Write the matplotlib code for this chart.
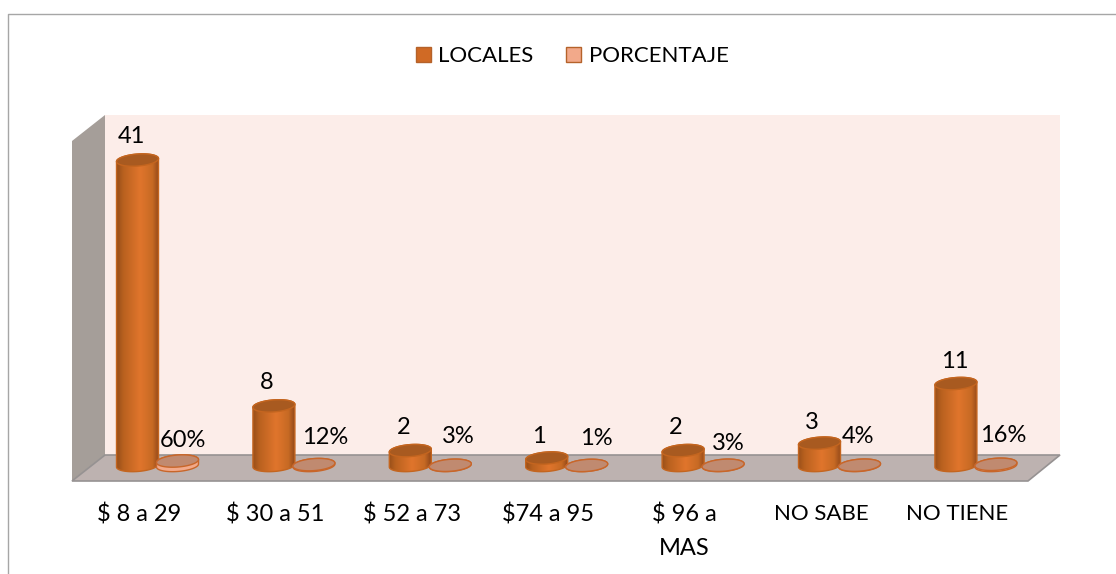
import numpy as np
import matplotlib
matplotlib.use('Agg')
import matplotlib.pyplot as plt
from matplotlib.patches import Polygon, Patch

# data
categories = ['$ 8 a 29', '$ 30 a 51', '$ 52 a 73', '$74 a 95', '$ 96 a\nMAS', 'NO SABE', 'NO TIENE']
locales = [41, 8, 2, 1, 2, 3, 11]
porcentaje = [0.60, 0.12, 0.03, 0.01, 0.03, 0.04, 0.16]
porcentaje_labels = ['60%', '12%', '3%', '1%', '3%', '4%', '16%']

plt.rcParams['font.family'] = ['Lato', 'DejaVu Sans']
W, H = 1116, 574
fig = plt.figure(figsize=(W / 100, H / 100), dpi=100)


def px(points):
    return [(x / W, 1 - y / H) for x, y in points]


def wall(points, color, edge='none', lw=0):
    fig.add_artist(Polygon(px(points), closed=True, facecolor=color, edgecolor=edge, zorder=-1,
                           linewidth=lw, transform=fig.transFigure))


# frame of the chart area
fig.add_artist(plt.Line2D([8 / W, 8 / W, 1], [0, 1 - 14 / H, 1 - 14 / H], color='#a6a6a6', lw=1, zorder=-1))

# 3d box behind the bars
wall([(105, 115), (1060, 115), (1060, 455), (105, 455)], '#fcede9')
wall([(72, 141), (105, 115), (105, 455), (72, 481)], '#a59e99')
wall([(72, 481), (105, 455), (1060, 455), (1028, 481)], '#bdb2b0', '#969292', 1.2)

# axes: left/right and floor edge of the box, one category = 136.4 px, one unit = 7.45 px
step = 136.4
unit = 7.45
ax = fig.add_axes([72 / W, 1 - 481 / H, (1028 - 72) / W, (481 - 115) / H])
ax.set_xlim((72 - 157.5) / step, (1028 - 157.5) / step)
ax.set_ylim(-(481 - 465.5) / unit, (465.5 - 115) / unit)
ax.patch.set_alpha(0)
for s in ax.spines.values():
    s.set_visible(False)
ax.set_yticks([])

half = 21.0 / step
rim = 6.0 / unit
tilt = 1.5 / unit
offset = 20.0 / step
t = np.linspace(0, 2 * np.pi, 120)
shade_pos = [0.0, 0.15, 0.55, 0.85, 1.0]
shade_rgb = np.array([matplotlib.colors.to_rgb(c) for c in ['#9a5019', '#b9611f', '#e0752c', '#c76a24', '#94491a']])
xlim, ylim = ax.get_xlim(), ax.get_ylim()

ax.set_xticks(np.arange(len(categories)) - offset + 0.01)
ax.set_xticklabels(categories, fontsize=16, color='black', linespacing=1.7)
ax.tick_params(axis='x', length=0, pad=16.5)
for label in ax.get_xticklabels():
    if label.get_text().startswith('$'):
        label.set_fontsize(17)


def outline(cx, y):
    return np.column_stack([cx + half * np.cos(t), y + rim * np.sin(t) + tilt * np.cos(t)])


def cylinder(cx, value, side, top, edge, gradient=True):
    low = outline(cx, 0)
    high = outline(cx, value)
    lower_half = low[(t >= np.pi) & (t <= 2 * np.pi)]
    upper_half = high[t <= np.pi]
    body = Polygon(np.vstack([lower_half, upper_half]), closed=True, facecolor=side if not gradient else 'none',
                   edgecolor=edge, linewidth=1, zorder=3, clip_on=False)
    ax.add_patch(body)
    if gradient:
        u = np.linspace(0, 1, 64)
        img = np.stack([np.interp(u, shade_pos, shade_rgb[:, i]) for i in range(3)], axis=1)[None, :, :]
        im = ax.imshow(img, extent=(cx - half, cx + half, -rim - tilt, value + rim + tilt),
                       aspect='auto', zorder=2.9, interpolation='bilinear')
        im.set_clip_path(body)
    ax.add_patch(Polygon(high, closed=True, facecolor=top, edgecolor=edge, linewidth=1, zorder=3.1, clip_on=False))


for i, v in enumerate(locales):
    cylinder(i - offset, v, '#d06a25', '#a85a20', '#c4651f')
for i, v in enumerate(porcentaje):
    cylinder(i + offset, v, '#f2a98a', '#c08a70', '#c8662a', gradient=False)
ax.set_xlim(xlim)
ax.set_ylim(ylim)

# value labels were placed by hand in the original, so each has its own nudge (px)
locales_nudge = [(-6, 24), (-7, 23), (-7, 23), (-8, 22), (-7, 23), (-7.5, 21), (-1, 22.5)]
porcentaje_nudge = [(5.5, 21), (11, 27), (8, 29), (10, 27), (5, 22), (-1.5, 29), (7, 29)]
for i, v in enumerate(locales):
    ax.annotate(str(v), (i - offset, v), xytext=(locales_nudge[i][0] * 0.72, locales_nudge[i][1] * 0.72),
                textcoords='offset points', ha='center', va='center', fontsize=17, color='black', zorder=5)
for i, v in enumerate(porcentaje):
    ax.annotate(porcentaje_labels[i], (i + offset, v),
                xytext=(porcentaje_nudge[i][0] * 0.72, porcentaje_nudge[i][1] * 0.72),
                textcoords='offset points', ha='center', va='center', fontsize=17, color='black', zorder=5)

handles = [Patch(facecolor='#d06a25', edgecolor='#b5622a', label='LOCALES'),
           Patch(facecolor='#f2a98a', edgecolor='#b5622a', label='PORCENTAJE')]
fig.legend(handles=handles, loc='center', bbox_to_anchor=(572 / W, 1 - 56 / H), ncol=2, frameon=False,
           fontsize=16, handlelength=0.68, handleheight=0.68, handletextpad=0.32, columnspacing=1.5,
           labelcolor='black')

fig.savefig('out.png', dpi=100)
